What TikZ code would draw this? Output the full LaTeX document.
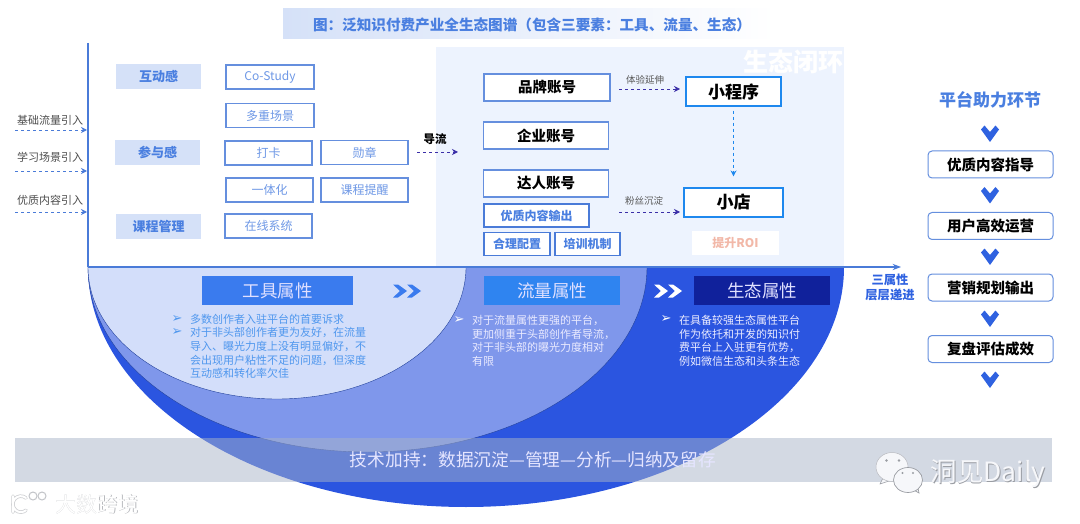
\documentclass[tikz,border=0pt]{standalone}
\usepackage{fontspec}
\setmainfont{Noto Sans CJK SC}
\newfontfamily\arrowfont{DejaVu Sans}
\definecolor{toolblue}{HTML}{D3DEFA}
\definecolor{flowblue}{HTML}{7F97EB}
\definecolor{ecoblue}{HTML}{2B55E0}
\definecolor{edgenavy}{HTML}{1F3F9B}
\definecolor{axisblue}{HTML}{4A7BD8}
\definecolor{tagblue}{HTML}{D5E1F8}
\definecolor{textblue}{HTML}{4A7FE0}
\definecolor{linkpurple}{HTML}{3B2FA8}
\definecolor{linkblue}{HTML}{1E88EE}
\definecolor{panelblue}{HTML}{EDF3FE}
\definecolor{bandgray}{HTML}{A8B3C8}
\definecolor{markgray}{HTML}{9A9DA3}
\definecolor{toolhead}{HTML}{3A7BEE}
\definecolor{flowhead}{HTML}{2F84F0}
\definecolor{ecohead}{HTML}{10219B}
\definecolor{bullettool}{HTML}{4F97EE}
\definecolor{roitext}{HTML}{F2B8A8}
\definecolor{chevblue}{HTML}{2F62E0}
\definecolor{markwhite}{HTML}{F6F7FA}
\usetikzlibrary{arrows.meta, positioning}
\tikzset{
	tagbox/.style={fill=tagblue, text=textblue, font=\fontsize{13}{15}\selectfont\bfseries,
		minimum width=85pt, minimum height=25pt, inner sep=0pt},
	outbox/.style={draw=axisblue!85, line width=1.1pt, fill=white, text=textblue!80,
		font=\fontsize{12}{14}\selectfont, minimum height=24pt, inner sep=0pt},
	acctbox/.style={draw=axisblue!85, line width=1.1pt, fill=white,
		font=\fontsize{14.5}{16}\selectfont\bfseries, minimum width=125pt, minimum height=27pt, inner sep=0pt},
	minibox/.style={draw=axisblue, line width=1.1pt, fill=white, text=textblue,
		font=\fontsize{12}{14}\selectfont\bfseries, minimum height=23pt, inner sep=0pt},
	shopbox/.style={draw=linkblue, line width=1.1pt, fill=white,
		font=\fontsize{17}{19}\selectfont\bfseries, minimum height=29pt, inner sep=0pt},
	stagebox/.style={draw=axisblue!85, line width=1pt, fill=white, rounded corners=4pt,
		font=\fontsize{14.5}{16}\selectfont\bfseries, minimum width=125pt, minimum height=27pt, inner sep=0pt},
	attrbox/.style={text=white!88!blue, font=\fontsize{17.5}{19}\selectfont,
		minimum height=29pt, inner sep=0pt},
	inlink/.style={-{Stealth[length=6pt, width=6pt]}, dashed, line width=0.9pt, axisblue},
	purplelink/.style={-{Stealth[length=6pt, width=6pt]}, dashed, line width=0.9pt, linkpurple},
	smalltext/.style={font=\fontsize{11}{13}\selectfont, text=black!70, inner sep=0pt},
	linktext/.style={font=\fontsize{9.5}{11}\selectfont, text=black!65, inner sep=0pt},
	bullettext/.style={font=\fontsize{11}{13.6}\selectfont, align=left, anchor=north west, inner sep=0pt},
	bulletmark/.style={font=\arrowfont\fontsize{13}{14}\selectfont, inner sep=0pt},
}
\begin{document}
\begin{tikzpicture}[x=1pt, y=-1pt]
	\useasboundingbox (0,0) rectangle (1080,524);
	% title
	\shade[left color=tagblue, right color=white] (283,9) rectangle (775,39);
	\node[font=\fontsize{14.6}{16}\selectfont\bfseries, text=textblue] (title) at (532,25)
		{图：泛知识付费产业全生态图谱（包含三要素：工具、流量、生态）};
	% ecosystem panel
	\fill[panelblue] (436,47) rectangle (844,266);
	\node[font=\fontsize{25}{27}\selectfont\bfseries, text=white] (closedloop) at (793,62) {生态闭环};
	% half ellipses
	\fill[ecoblue] (88,267) arc[start angle=180, end angle=0, x radius=378, y radius=240] -- cycle;
	\draw[edgenavy, fill=flowblue] (88,267) arc[start angle=180, end angle=0, x radius=279.5, y radius=185] -- cycle;
	\draw[edgenavy, fill=toolblue] (88,267) arc[start angle=180, end angle=0, x radius=189, y radius=132] -- cycle;
	% axes
	\coordinate (axistop) at (88,43);
	\coordinate (axisorigin) at (88,267);
	\coordinate (axisend) at (901,267);
	\draw[axisblue, line width=1.2pt] (axistop) -- (axisorigin);
	\draw[-{Stealth}, axisblue, line width=1.2pt] (axisorigin) -- (axisend);
	% incoming
	\foreach \name/\txt/\ty/\ay in {base/基础流量引入/120/130, scene/学习场景引入/157/171, good/优质内容引入/200/212}{
		\node[smalltext] (\name label) at (50,\ty) {\txt};
		\coordinate (\name start) at (15,\ay);
		\coordinate (\name end) at (87,\ay);
		\draw[inlink] (\name start) -- (\name end);
	}
	% left tags
	\node[tagbox] (interact) at (158.5,76.5) {互动感};
	\node[tagbox] (join) at (157.5,152.5) {参与感};
	\node[tagbox] (course) at (158.5,226.5) {课程管理};
	\node[outbox, minimum width=88pt] (costudy) at (270,77) {Co-Study};
	\node[outbox, minimum width=88pt] (multi) at (270,115.5) {多重场景};
	\node[outbox, minimum width=87pt] (checkin) at (268.5,153) {打卡};
	\node[outbox, minimum width=87pt] (medal) at (364.5,152.5) {勋章};
	\node[outbox, minimum width=87pt] (unified) at (269.5,190) {一体化};
	\node[outbox, minimum width=87pt] (remind) at (364.5,190) {课程提醒};
	\node[outbox, minimum width=87pt] (online) at (268.5,226) {在线系统};
	% guide arrow
	\node[font=\fontsize{11.5}{13}\selectfont\bfseries, inner sep=0pt] (guide) at (435,139) {导流};
	\coordinate (guidestart) at (417,152);
	\coordinate (guideend) at (458,152);
	\draw[purplelink] (guidestart) -- (guideend);
	% accounts
	\node[acctbox, minimum width=126pt] (brand) at (547,87.5) {品牌账号};
	\node[acctbox] (company) at (546,135.5) {企业账号};
	\node[acctbox] (talent) at (546,183.5) {达人账号};
	\node[minibox, minimum width=105pt] (output) at (536.5,215.5) {优质内容输出};
	\node[minibox, minimum width=66pt] (config) at (517,244) {合理配置};
	\node[minibox, minimum width=65pt] (train) at (587.5,244) {培训机制};
	\node[shopbox, minimum width=95pt] (miniapp) at (733.5,91.5) {小程序};
	\node[shopbox, minimum width=99pt] (shop) at (733.5,202.5) {小店};
	\node[fill=white, text=roitext, font=\fontsize{12}{14}\selectfont\bfseries,
		minimum width=87pt, minimum height=24pt, inner sep=0pt] (roi) at (735.5,243) {提升ROI};
	\coordinate (extendstart) at (619,89);
	\coordinate (settlestart) at (619,212);
	\coordinate (extendend) at (680,89);
	\coordinate (settleend) at (680,212);
	\draw[purplelink] (extendstart) -- (extendend);
	\draw[purplelink] (settlestart) -- (settleend);
	\node[linktext] (extendlabel) at (645,80) {体验延伸};
	\node[linktext] (settlelabel) at (644,201) {粉丝沉淀};
	\draw[-{Stealth[length=6pt, width=6pt]}, dashed, line width=0.9pt, linkblue, shorten <=4pt, shorten >=11pt] (miniapp) -- (shop);
	% attribute headers
	\node[attrbox, fill=toolhead, minimum width=151pt] (toolattr) at (277.5,290.5) {工具属性};
	\node[attrbox, fill=flowhead, minimum width=136pt] (flowattr) at (552,290.5) {流量属性};
	\node[attrbox, fill=ecohead, minimum width=136pt] (ecoattr) at (762,290.5) {生态属性};
	\foreach \cx/\col in {400/toolhead, 414/toolhead, 661/white, 675/white}{
		\fill[\col] (\cx-7,284.5) -- (\cx-2,284.5) -- (\cx+7,291) -- (\cx-2,297.5) -- (\cx-7,297.5) -- (\cx,291) -- cycle;
	}
	% bullet text
	\node[bulletmark, text=bullettool] (toolmarka) at (177,319) {➢};
	\node[bulletmark, text=bullettool] (toolmarkb) at (177,332) {➢};
	\node[bullettext, text=bullettool] (tooltexta) at (190,314) {多数创作者入驻平台的首要诉求};
	\node[bullettext, text=bullettool] (tooltextb) at (190,327.5) {对于非头部创作者更为友好，在流量\\导入、曝光力度上没有明显偏好，不\\会出现用户粘性不足的问题，但深度\\互动感和转化率欠佳};
	\node[bulletmark, text=white] (flowmark) at (459,320) {➢};
	\node[bullettext, text=white!92!blue] (flowtext) at (472,315) {对于流量属性更强的平台，\\更加侧重于头部创作者导流，\\对于非头部的曝光力度相对\\有限};
	\node[bulletmark, text=white] (ecomark) at (666,319) {➢};
	\node[bullettext, text=white!92!blue] (ecotext) at (679,315) {在具备较强生态属性平台\\作为依托和开发的知识付\\费平台上入驻更有优势，\\例如微信生态和头条生态};
	% tech band
	\fill[bandgray, fill opacity=0.5] (15,438) rectangle (1052,482);
	\node[font=\fontsize{17.7}{19}\selectfont, text=white!90!blue] (techline) at (533,460) {技术加持：数据沉淀—管理—分析—归纳及留存};
	% attribute summary
	\node[font=\fontsize{12.3}{15}\selectfont\bfseries, text=chevblue, align=center, inner sep=0pt] (rising) at (890,287.5) {三属性\\层层递进};
	% right column
	\node[font=\fontsize{17}{19}\selectfont\bfseries, text=textblue, inner sep=0pt] (helper) at (990,100) {平台助力环节};
	\node[stagebox] (guidance) at (990.5,164.5) {优质内容指导};
	\node[stagebox] (operate) at (990.5,226) {用户高效运营};
	\node[stagebox] (market) at (990.5,287.5) {营销规划输出};
	\node[stagebox] (review) at (990.5,349) {复盘评估成效};
	\foreach \cy in {133.5,195,256.5,318.5,379.5}{
		\fill[chevblue] (981,\cy-4) -- (984.5,\cy-8) -- (990,\cy-1.5) -- (995.5,\cy-8) -- (999,\cy-4) -- (990,\cy+8.5) -- cycle;
	}
	% wechat mark
	\fill[markwhite, draw=markgray, line width=0.5pt] (880,484) -- (884,476) -- (892,480) -- cycle;
	\fill[markwhite, draw=markgray!70, line width=0.5pt] (892,467) ellipse[x radius=16, y radius=14.5];
	\fill[markwhite, draw=markgray, line width=0.7pt] (919,493) -- (912,489) -- (917,484) -- cycle;
	\fill[markwhite, draw=markgray, line width=0.7pt] (908,480) ellipse[x radius=14.5, y radius=12.5];
	\foreach \ex/\ey/\er in {886.5/460.5/1.3, 899/460.5/1.3, 902.5/473/1.1, 913/473/1.1}{
		\fill[markgray] (\ex,\ey) circle[radius=\er];
	}
	\node[font=\fontsize{26.5}{28}\selectfont, text=markgray, inner sep=0pt] (dailyshadow) at (988.7,474.7) {洞见Daily};
	\node[font=\fontsize{26.5}{28}\selectfont, text=markwhite, inner sep=0pt] (daily) at (988,474) {洞见Daily};
	% lower left mark
	\draw[markgray!50, line width=3.5pt, line cap=round] (13,496) -- (13,512) (26,498) arc[start angle=-50, end angle=-310, radius=8];
	\draw[white, line width=2pt, line cap=round] (13,496) -- (13,512) (26,498) arc[start angle=-50, end angle=-310, radius=8];
	\foreach \cx in {33,42}{
		\draw[markgray!60, line width=1pt] (\cx,496) circle[radius=4];
	}
	\node[font=\fontsize{21}{23}\selectfont, text=markgray!70, inner sep=0pt] (crossshadow) at (97.6,504.6) {大数跨境};
	\node[font=\fontsize{21}{23}\selectfont, text=white, inner sep=0pt] (cross) at (97,504) {大数跨境};
\end{tikzpicture}
\end{document}
